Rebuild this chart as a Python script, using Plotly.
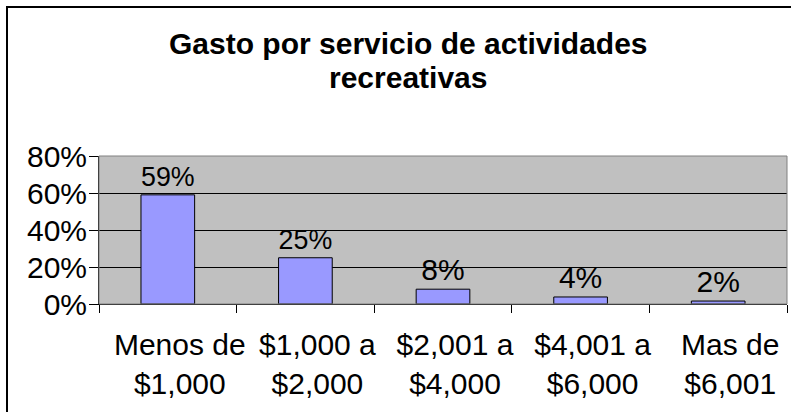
import plotly.graph_objects as go

categories = ["Menos de<br>$1,000", "$1,000 a<br>$2,000", "$2,001 a<br>$4,000",
              "$4,001 a<br>$6,000", "Mas de<br>$6,001"]
values = [0.59, 0.25, 0.08, 0.038, 0.016]
labels = ["59%", "25%", "8%", "4%", "2%"]
y_ticks = [0, 0.2, 0.4, 0.6, 0.8]
y_tick_labels = ["0%", "20%", "40%", "60%", "80%"]
title_lines = ["Gasto por servicio de actividades", "recreativas"]

FONT = "Liberation Sans, Arial, sans-serif"

fig = go.Figure(go.Bar(
    x=categories, y=values, text=labels, textposition="outside",
    textfont=dict(family=FONT, size=30, color="black"),
    marker=dict(color="#9999FF", line=dict(color="black", width=1)),
    cliponaxis=False,
))

W, H = 791, 412
L, R, T, B = 99, 4, 156, 108
pw, ph = W - L - R, H - T - B

def px_x(p):
    return (p - L) / pw

def px_y(p):
    return (H - B - p) / ph

fig.update_layout(
    width=W, height=H,
    margin=dict(l=L, r=R, t=T, b=B, pad=0, autoexpand=False),
    paper_bgcolor="white", plot_bgcolor="#C0C0C0",
    bargap=0.61, showlegend=False,
    font=dict(family=FONT, size=30, color="black"),
    xaxis=dict(showline=True, linecolor="black", linewidth=1,
               ticks="outside", ticklen=8, tickcolor="black",
               tickson="boundaries", showgrid=False, tickangle=0,
               automargin=False, ticklabelstandoff=14, ticklabelshift=12,
               tickfont=dict(family=FONT, size=30, color="black")),
    yaxis=dict(range=[0, 0.8], tickvals=y_ticks, ticktext=y_tick_labels,
               showline=True, linecolor="black", linewidth=1,
               ticks="outside", ticklen=9, tickcolor="black",
               showgrid=True, gridcolor="black", gridwidth=1,
               zeroline=False, automargin=False, ticklabelstandoff=-4,
               tickfont=dict(family=FONT, size=30, color="black")),
    shapes=[
        dict(type="rect", xref="paper", yref="paper", x0=0, x1=1, y0=0, y1=1,
             line=dict(color="#808080", width=1), layer="above"),
        dict(type="rect", xref="paper", yref="paper",
             x0=px_x(7), x1=px_x(820), y0=px_y(440), y1=px_y(7),
             line=dict(color="black", width=2), layer="above"),
    ],
    annotations=[
        dict(text=f"<b>{title_lines[0]}</b>", xref="paper", yref="paper",
             x=px_x(408), y=px_y(43.5), xanchor="center", yanchor="middle",
             showarrow=False, font=dict(family=FONT, size=30, color="black")),
        dict(text=f"<b>{title_lines[1]}</b>", xref="paper", yref="paper",
             x=px_x(408), y=px_y(77.5), xanchor="center", yanchor="middle",
             showarrow=False, font=dict(family=FONT, size=30, color="black")),
    ],
)

fig.write_html("out.html", config={"displayModeBar": False},
               post_script="document.body.style.margin='0';document.body.style.overflow='hidden';")
